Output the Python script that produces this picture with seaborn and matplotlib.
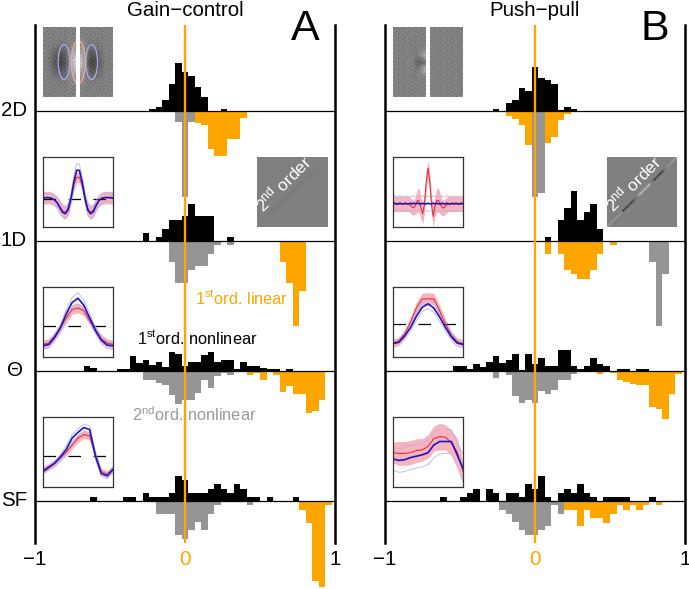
import numpy as np
import matplotlib
matplotlib.use('Agg')
import matplotlib.pyplot as plt
from matplotlib.patches import Ellipse
import seaborn as sns

FIG_W, FIG_H = 689, 589
N_BINS = 47
BIN_W = 2 / 46
bin_edges = (np.arange(N_BINS + 1) - 23.5) * BIN_W
bin_centers = (bin_edges[:-1] + bin_edges[1:]) / 2


def row(first, vals):
    # bar heights (in px) starting at bin number `first`
    out = [0.0] * N_BINS
    out[first:first + len(vals)] = vals
    return out


row_names = ['2D', '1D', '\u0398', 'SF']
row_base = [110.5, 240.5, 370.5, 500.5]
row_label_x = [27, 27, 23, 27]

# Gain-control panel
a_2d_black = row(18, [1.5, 4, 11, 27, 48, 39, 35, 24, 14, 0, 0, 2])
a_2d_gray = row(22, [11, 86, 11])
a_2d_orange = row(25, [12, 14, 38, 45, 45, 28, 28, 7])
a_1d_black = row(17, [8, 0, 4, 12, 21, 21, 25, 37, 25, 25, 25, 0, 0, 4])
a_1d_gray = row(21, [21, 42, 42, 29, 25, 25, 13, 4, 0, 4])
a_1d_orange = row(38, [21, 42, 85, 50])
a_th_black = row(8, [4.5, 3, 0, 0, 0, 2, 2, 15, 8, 11, 6, 9, 4, 19, 17, 5, 9, 9, 16, 19, 9, 11, 11, 2, 9, 5, 5, 3, 2, 2, 0, 2])
a_th_gray = row(17, [9, 9, 12, 14, 24, 33, 29, 29, 22, 9, 17, 5, 2, 4])
a_th_orange = row(33, [4, 2, 9, 0, 4, 21, 15, 23, 23, 42, 40, 29])
a_sf_black = row(9, [4, 0, 0, 0, 0, 4, 4, 0, 8, 4, 4, 4, 8, 25, 21, 8, 8, 8, 12, 17, 12, 8, 17, 12, 4, 4, 0, 4, 0, 0, 0, 4])
a_sf_gray = row(19, [13, 13, 13, 34, 38, 29, 21, 29, 13, 4, 0, 0, 0, 0, 4])
a_sf_orange = row(41, [9, 22, 80, 86, 4])

# Push-pull panel
b_2d_black = row(17, [2, 0, 8, 11, 23, 20, 44, 33, 31, 27, 1, 4, 2])
b_2d_gray = row(23, [86, 82])
b_2d_orange = row(19, [5, 8, 14, 34, 34, 32, 32, 26, 9, 3])
b_1d_black = row(25, [4, 0, 21, 33, 50, 21, 29, 37, 12])
b_1d_gray = row(41, [21, 85, 33])
b_1d_orange = row(25, [13, 0, 13, 29, 33, 38, 38, 29, 13, 0, 4])
b_th_black = row(11, [5, 5, 2, 7, 4, 9, 15, 8, 11, 17, 1, 17, 7, 13, 5, 5, 21, 21, 5, 2, 5, 13, 7, 5, 0, 2, 2, 0, 2, 2])
b_th_gray = row(17, [7, 0, 4, 25, 32, 29, 32, 20, 23, 19, 9, 9, 3])
b_th_orange = row(33, [3, 0, 2, 9, 11, 13, 14, 14, 36, 38, 48, 23, 3])
b_sf_black = row(9, [4, 0, 0, 4, 8, 12, 0, 12, 8, 0, 8, 8, 4, 17, 12, 25, 4, 0, 8, 12, 8, 17, 8, 4, 0, 4, 4, 4, 4, 0, 0, 0, 4])
b_sf_gray = row(18, [9, 13, 21, 29, 34, 34, 29, 25, 4, 13])
b_sf_orange = row(28, [9, 9, 25, 9, 17, 17, 22, 13, 4, 9, 4, 9, 4, 0, 4])

a_rows = [(a_2d_black, a_2d_orange, a_2d_gray), (a_1d_black, a_1d_orange, a_1d_gray),
          (a_th_black, a_th_orange, a_th_gray), (a_sf_black, a_sf_orange, a_sf_gray)]
b_rows = [(b_2d_black, b_2d_orange, b_2d_gray), (b_1d_black, b_1d_orange, b_1d_gray),
          (b_th_black, b_th_orange, b_th_gray), (b_sf_black, b_sf_orange, b_sf_gray)]

# inset tuning curves: red line, red band half width, blue line, pale blue offset
a_1d_red = [.41, .42, .42, .41, .39, .35, .29, .23, .21, .27, .41, .60, .71, .71, .60, .41, .26, .21, .24, .32, .38, .41, .42, .42, .42, .41]
a_1d_rerr = [.09, .09, .09, .09, .09, .09, .10, .10, .10, .10, .09, .09, .08, .08, .09, .09, .10, .10, .10, .09, .09, .09, .09, .09, .09, .09]
a_1d_blue = [.41, .42, .42, .41, .39, .35, .28, .21, .19, .25, .41, .64, .81, .81, .64, .41, .24, .19, .22, .31, .38, .41, .42, .42, .42, .41]
a_1d_berr = [.06, .06, .06, .06, .06, .06, .07, .07, .07, .07, .07, .08, .09, .09, .08, .07, .07, .07, .07, .06, .06, .06, .06, .06, .06, .06]

a_th_red = [.18, .20, .30, .42, .56, .68, .70, .66, .52, .38, .26, .20, .18]
a_th_rerr = [.06, .06, .06, .06, .07, .07, .07, .07, .06, .06, .06, .06, .06]
a_th_blue = [.16, .18, .28, .42, .62, .78, .84, .74, .56, .38, .24, .17, .16]
a_th_berr = [.05, .05, .05, .05, .06, .07, .08, .07, .06, .05, .05, .05, .05]

a_sf_red = [.24, .29, .34, .42, .50, .60, .70, .75, .73, .45, .22, .18, .26]
a_sf_rerr = [.05, .05, .05, .05, .05, .05, .06, .06, .06, .06, .05, .05, .05]
a_sf_blue = [.22, .28, .34, .43, .54, .70, .78, .85, .82, .44, .19, .16, .25]
a_sf_berr = [.03, .03, .03, .04, .05, .05, .05, .05, .05, .05, .04, .04, .04]

b_1d_red = [.33, .33, .33, .33, .33, .33, .33, .33, .33, .33, .31, .28, .28, .32, .38, .37, .27, .19, .33, .65, .84,
            .65, .32, .15, .30, .38, .38, .33, .28, .27, .30, .32, .33, .33, .33, .33, .33, .33, .33, .33, .33]
b_1d_rerr = [.11, .11, .11, .11, .11, .11, .11, .11, .11, .11, .11, .11, .11, .13, .17, .17, .15, .15, .13, .14, .12,
             .14, .13, .16, .15, .17, .17, .14, .12, .11, .11, .11, .11, .11, .11, .11, .11, .11, .11, .11, .11]
b_1d_blue = [.33, .34, .33, .33, .34, .33, .33, .34, .33, .33, .34, .33, .34, .33, .34, .33, .33, .34, .33, .33, .34,
             .33, .33, .34, .33, .34, .33, .33, .34, .33, .33, .34, .33, .33, .34, .33, .34, .33, .33, .34, .33]
b_1d_berr = [.10, .11, .10, .10, .11, .10, .10, .10, .11, .10, .10, .11, .10, .10, .11, .10, .10, .11, .10, .10, .11,
             .10, .10, .11, .10, .11, .10, .10, .11, .10, .10, .11, .10, .10, .10, .11, .10, .10, .11, .10, .10]

b_th_red = [.20, .23, .33, .50, .70, .83, .83, .83, .66, .47, .31, .22, .19]
b_th_rerr = [.05, .05, .06, .07, .08, .08, .09, .08, .08, .07, .06, .05, .05]
b_th_blue = [.19, .21, .30, .42, .58, .71, .76, .70, .57, .42, .29, .20, .18]
b_th_berr = [.05, .05, .05, .05, .06, .06, .07, .06, .06, .05, .05, .05, .05]

b_sf_red = [.49, .48, .48, .49, .52, .53, .58, .69, .72, .71, .63, .50, .22]
b_sf_rerr = [.15, .17, .17, .17, .17, .16, .17, .18, .19, .18, .18, .20, .15]
b_sf_blue = [.40, .38, .39, .42, .44, .46, .49, .60, .65, .65, .65, .46, .27]
b_sf_berr = [.16, .17, .17, .17, .17, .17, .17, .18, .18, .17, .17, .17, .20]

a_curves = [(a_1d_red, a_1d_rerr, a_1d_blue, a_1d_berr, 157, .405),
            (a_th_red, a_th_rerr, a_th_blue, a_th_berr, 287, .45),
            (a_sf_red, a_sf_rerr, a_sf_blue, a_sf_berr, 417, .45)]
b_curves = [(b_1d_red, b_1d_rerr, b_1d_blue, b_1d_berr, 157, None),
            (b_th_red, b_th_rerr, b_th_blue, b_th_berr, 287, .47),
            (b_sf_red, b_sf_rerr, b_sf_blue, b_sf_berr, 417, None)]

# receptive field images, coarse grey levels
a_rf_left = [[.5, .5, .5, .5, .5, .5, .5],
             [.5, .5, .5, .5, .5, .5, .52],
             [.5, .5, .5, .47, .47, .5, .56],
             [.5, .5, .42, .34, .38, .5, .68],
             [.5, .46, .32, .22, .26, .5, .88],
             [.5, .44, .26, .14, .18, .5, 1.0],
             [.5, .46, .32, .22, .26, .5, .88],
             [.5, .5, .42, .34, .38, .5, .68],
             [.5, .5, .5, .47, .47, .5, .56],
             [.5, .5, .5, .5, .5, .5, .52],
             [.5, .5, .5, .5, .5, .5, .5]]
a_rf_right = [[.5, .5, .5, .5, .5, .5, .5],
              [.52, .5, .5, .5, .5, .5, .5],
              [.56, .5, .47, .47, .5, .5, .5],
              [.65, .45, .34, .38, .47, .5, .5],
              [.80, .38, .22, .26, .44, .5, .5],
              [.92, .32, .14, .18, .40, .5, .5],
              [.80, .38, .22, .26, .44, .5, .5],
              [.65, .45, .34, .38, .47, .5, .5],
              [.56, .5, .47, .47, .5, .5, .5],
              [.52, .5, .5, .5, .5, .5, .5],
              [.5, .5, .5, .5, .5, .5, .5]]
b_rf_left = [[.5, .5, .5, .5, .5, .5, .5],
             [.5, .5, .5, .5, .5, .5, .5],
             [.5, .5, .5, .5, .5, .5, .5],
             [.5, .5, .5, .5, .5, .5, .5],
             [.5, .5, .5, .5, .5, .48, .9],
             [.5, .5, .5, .54, .5, .2, .25],
             [.5, .5, .5, .52, .5, .42, .9],
             [.5, .5, .5, .5, .5, .5, .55],
             [.5, .5, .5, .5, .5, .5, .5],
             [.5, .5, .5, .5, .5, .5, .5],
             [.5, .5, .5, .5, .5, .5, .5]]
b_rf_right = [[.5] * 7] * 11

# fixed grain for the noisy image background
grain = [[.3, .7, .5, .2, .8, .4, .6, .3, .7],
         [.6, .2, .8, .5, .3, .7, .2, .6, .4],
         [.4, .8, .3, .7, .5, .2, .8, .4, .6],
         [.7, .5, .6, .2, .6, .8, .3, .5, .2],
         [.2, .6, .3, .8, .4, .3, .7, .6, .8],
         [.8, .3, .7, .5, .2, .6, .5, .2, .4],
         [.5, .7, .2, .6, .8, .4, .8, .3, .6],
         [.3, .4, .8, .3, .5, .7, .2, .7, .5],
         [.7, .6, .4, .7, .2, .5, .6, .4, .3]]

# grey level along the diagonal of the 2nd order images, lower left to upper right
a_diag = [.5, .5, .5, .48, .47, .47, .46, .46, .47, .46, .46, .47, .47, .48, .47, .48, .48, .5, .5, .5]
b_diag = [.62, .62, .62, .62, .62, .62, .62, .58, .15, .2, .15, .25, .15, .2, .4, .5, .75, .85, .78, .85, .75, .85,
          .55, .4, .15, .2, .15, .15, .2, .4, .58, .62, .62, .65, .65, .65]

sns.set_theme(style='white')
plt.rcParams['font.family'] = ['Liberation Sans', 'DejaVu Sans']
plt.rcParams['mathtext.fontset'] = 'custom'
plt.rcParams['mathtext.rm'] = 'Liberation Sans'
plt.rcParams['mathtext.default'] = 'regular'

ORANGE = '#FFA500'
GRAY = '#959595'
PINK = '#F7B4BC'
FS = 14.8

fig = plt.figure(figsize=(FIG_W / 100, FIG_H / 100), dpi=100)


def px_axes(x0, y0, x1, y1, **kw):
    # axes from pixel box, y measured from the top of the image
    return fig.add_axes([x0 / FIG_W, 1 - y1 / FIG_H, (x1 - x0) / FIG_W, (y1 - y0) / FIG_H], **kw)


def px_text(x, y, s, **kw):
    fig.text(x / FIG_W, 1 - y / FIG_H, s, **kw)


def draw_rows(x0, rows):
    edges = list(bin_edges)
    for base, (black, orange, gray) in zip(row_base, rows):
        ax = px_axes(x0, base - 90, x0 + 300, base + 90)
        ax.patch.set_alpha(0)
        sns.histplot(x=bin_centers, weights=np.array(black), bins=edges, color='black', alpha=1, linewidth=0, ax=ax)
        sns.histplot(x=bin_centers, weights=-np.array(orange), bins=edges, color=ORANGE, alpha=1, linewidth=0, ax=ax)
        sns.histplot(x=bin_centers, weights=-np.array(gray), bins=edges, color=GRAY, alpha=1, linewidth=0, ax=ax)
        for p in ax.patches:
            p.set_clip_on(False)
            p.set_antialiased(False)
        ax.set_xlim(-1, 1)
        ax.set_ylim(-90, 90)
        ax.axis('off')


def draw_frame(x0):
    ax = px_axes(x0, 25, x0 + 300, 543, zorder=5)
    ax.patch.set_alpha(0)
    ax.set_xlim(-1, 1)
    ax.set_ylim(543, 25)
    ax.set_yticks([])
    ax.set_xticks([-1, 0, 1])
    ax.set_xticklabels(['\u22121', '0', '1'], fontsize=FS)
    ax.tick_params(axis='x', length=0, pad=5, colors='black')
    ax.get_xticklabels()[1].set_color(ORANGE)
    for name in ['top', 'bottom']:
        ax.spines[name].set_visible(False)
    for name in ['left', 'right']:
        ax.spines[name].set_linewidth(1.8)
        ax.spines[name].set_color('black')
    for base in row_base:
        ax.axhline(base, color='black', lw=0.9)
    ax.axvline(0, color=ORANGE, lw=1.7)


def draw_inset(x0, curves):
    red, rerr, blue, berr, top, dash = curves
    ax = px_axes(x0, top, x0 + 70, top + 70, zorder=6)
    x = np.linspace(0, 1, len(red))
    red = np.array(red)
    blue = np.array(blue)
    ax.fill_between(x, red - np.array(rerr), red + np.array(rerr), color=PINK, lw=0)
    if dash is not None:
        ax.axhline(dash, color='black', lw=0.9, dashes=(10, 10))
    sns.lineplot(x=x, y=blue + np.array(berr), color='#B4B4F0', lw=0.6, errorbar=None, ax=ax)
    sns.lineplot(x=x, y=blue - np.array(berr), color='#B4B4F0', lw=0.6, errorbar=None, ax=ax)
    sns.lineplot(x=x, y=red, color='#E8303A', lw=0.8, errorbar=None, ax=ax)
    sns.lineplot(x=x, y=blue, color='#1A14C8', lw=1.2, errorbar=None, ax=ax)
    ax.set_xlim(0, 1)
    ax.set_ylim(0, 1)
    ax.set_xticks([])
    ax.set_yticks([])
    ax.set_xlabel('')
    ax.set_ylabel('')
    for s in ax.spines.values():
        s.set_color('#333333')
        s.set_linewidth(0.9)


def draw_rf(x0, x1, coarse):
    ax = px_axes(x0, 27, x1, 97, zorder=6)
    ax.imshow(coarse, cmap='gray', vmin=0, vmax=1, interpolation='bicubic', extent=(0, 1, 0, 1), aspect='auto')
    tile = np.tile(np.array(grain), (6, 3))[:52, :25]
    ax.imshow(tile, cmap='gray', vmin=0, vmax=1, alpha=0.32, interpolation='bilinear', extent=(0, 1, 0, 1), aspect='auto')
    ax.axis('off')
    return ax


def draw_2nd_order(x0, diag):
    ax = px_axes(x0, 157, x0 + 70, 227, zorder=6)
    n = len(diag)
    img = np.full((n, n), 0.5)
    for i, v in enumerate(diag):
        img[n - 1 - i, i] = v
    ax.imshow(img, cmap='gray', vmin=0, vmax=1, interpolation='bilinear', extent=(0, 1, 0, 1), aspect='auto')
    ax.text(.37, .63, '2$^{nd}$ order', color='white', rotation=45, ha='center', va='center',
            fontsize=12.5, transform=ax.transAxes)
    ax.axis('off')


draw_rows(35, a_rows)
draw_rows(385, b_rows)
draw_frame(35)
draw_frame(385)

for c in a_curves:
    draw_inset(43, c)
for c in b_curves:
    draw_inset(393, c)

ax_l = draw_rf(43, 76, a_rf_left)
ax_r = draw_rf(80, 113, a_rf_right)
draw_rf(393, 426, b_rf_left)
draw_rf(430, 463, b_rf_right)

# receptive field ellipses, pixel centre and size converted to each image's axes
for cx, w, hh, col, ax_, x0, x1 in [(64, 11.7, 35, '#A8A8F5', ax_l, 43, 76),
                                    (91.7, 11.7, 35, '#A8A8F5', ax_r, 80, 113),
                                    (78.3, 14, 43, '#F0A898', ax_l, 43, 76),
                                    (78.3, 14, 43, '#F0A898', ax_r, 80, 113)]:
    ax_.set_xlim(0, 1)
    ax_.set_ylim(0, 1)
    ax_.add_patch(Ellipse(((cx - x0) / (x1 - x0), (97 - 62) / 70), w / (x1 - x0), hh / 70,
                          fc='none', ec=col, lw=0.9))

draw_2nd_order(257, a_diag)
draw_2nd_order(607, b_diag)

px_text(185, 11, 'Gain\u2212control', fontsize=FS, ha='center', va='center', color='black')
px_text(535, 11, 'Push\u2212pull', fontsize=FS, ha='center', va='center', color='black')
px_text(305, 29, 'A', fontsize=31, ha='center', va='center', color='black')
px_text(655, 29, 'B', fontsize=31, ha='center', va='center', color='black')

for name, base, lx in zip(row_names, row_base, row_label_x):
    px_text(lx, base, name, fontsize=FS, ha='right', va='center', color='black')

px_text(242, 298, '1$^{st}$ord. linear', fontsize=11.8, ha='center', va='center', color=ORANGE, zorder=7)
px_text(197, 338, '1$^{st}$ord. nonlinear', fontsize=11.8, ha='center', va='center', color='black', zorder=7)
px_text(194, 415, '2$^{nd}$ord. nonlinear', fontsize=11.8, ha='center', va='center', color='#9A9A9A', zorder=7)

fig.savefig('out.png', dpi=100)
